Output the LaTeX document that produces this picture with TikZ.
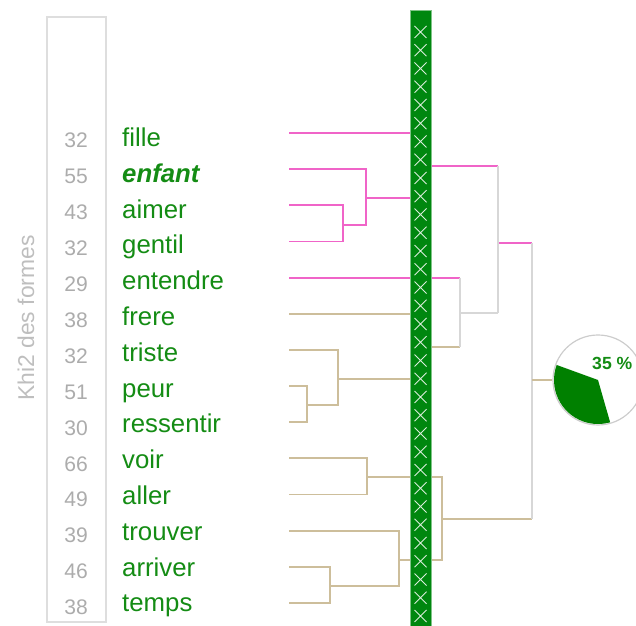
\documentclass[tikz,border=0pt]{standalone}
\usepackage{fontspec}
\setmainfont{Liberation Sans}

\definecolor{wordgreen}{RGB}{20,140,20}
\definecolor{numgray}{RGB}{172,172,172}
\definecolor{labelgray}{RGB}{190,190,190}
\definecolor{framegray}{RGB}{222,222,222}
\definecolor{linepink}{RGB}{240,100,200}
\definecolor{linetan}{RGB}{205,190,155}
\definecolor{linegray}{RGB}{215,215,215}
\definecolor{bargreen}{RGB}{0,135,15}

\begin{document}
\begin{tikzpicture}[x=0.03cm,y=-0.03cm]
      % Define styles for nodes and lines
      \tikzstyle{word} = [anchor=base west, inner sep=0pt, text=wordgreen,
      font=\fontsize{22}{24}\selectfont]
      \tikzstyle{khi} = [anchor=base east, inner sep=0pt, text=numgray,
      font=\fontsize{18}{20}\selectfont]
      \tikzstyle{pinkline} = [draw=linepink, line width=1.6pt]
      \tikzstyle{tanline} = [draw=linetan, line width=1.6pt]
      \tikzstyle{grayline} = [draw=linegray, line width=1.6pt]
      \tikzstyle{piechart} = [circle, draw=gray!40, fill=white, line width=1pt,
      minimum size=2.7cm, inner sep=0pt]

      \useasboundingbox (0,0) rectangle (636,626);

      % Frame of the Khi2 column
      \draw[framegray, line width=1pt] (47,17) rectangle (106,622);
      \node[rotate=90, text=labelgray, font=\fontsize{19.5}{21}\selectfont] (axis) at (26,318) {Khi2 des formes};

      % Words, Khi2 values and leaf ends
      \foreach \w/\n [count=\i from 0] in {fille/32, {\bfseries\itshape enfant}/55,
        aimer/43, gentil/32, entendre/29, frere/38, triste/32, peur/51,
        ressentir/30, voir/66, aller/49, trouver/39, arriver/46, temps/38} {
        \coordinate (l\i) at (289,133+36.15*\i);
        \node[word] (w\i) at (122,146.5+35.8*\i) {\w};
        \node[khi] (n\i) at (88,148+35.9*\i) {\n};
      }

      % Merge points
      \coordinate (ag) at (343,225);
      \coordinate (eag) at (366,198);
      \coordinate (fe) at (421,166);
      \coordinate (pr) at (307,405);
      \coordinate (tpr) at (338,379);
      \coordinate (ft) at (421,347);
      \coordinate (va) at (367,477);
      \coordinate (at) at (330,586);
      \coordinate (tat) at (399,560);
      \coordinate (vt) at (442,519);
      \coordinate (eft) at (460,313);
      \coordinate (pinkroot) at (498,243);
      \coordinate (root) at (532,380);

      % Pink class
      \draw[pinkline] (l2) -| (ag) |- (l3);
      \draw[pinkline] (l1) -| (eag) |- (ag);
      \draw[pinkline] (l0) -| (fe) |- (eag);
      \draw[pinkline] (l4) -- (l4 -| eft);
      \draw[pinkline] (fe) -- (fe -| pinkroot);
      \draw[pinkline] (pinkroot) -- (pinkroot -| root);

      % Tan class
      \draw[tanline] (l7) -| (pr) |- (l8);
      \draw[tanline] (l6) -| (tpr) |- (pr);
      \draw[tanline] (l5) -| (ft) |- (tpr);
      \draw[tanline] (l9) -| (va) |- (l10);
      \draw[tanline] (l12) -| (at) |- (l13);
      \draw[tanline] (l11) -| (tat) |- (at);
      \draw[tanline] (va) -| (vt) |- (tat);
      \draw[tanline] (ft) -- (ft -| eft);
      \draw[tanline] (vt) -- (vt -| root);

      % Grey joins
      \draw[grayline] (l4 -| eft) -- (ft -| eft);
      \draw[grayline] (eft) -- (eft -| pinkroot);
      \draw[grayline] (fe -| pinkroot) -- (eft -| pinkroot);
      \draw[grayline] (pinkroot -| root) -- (vt -| root);

      % Green bar
      \fill[bargreen] (410,10) rectangle (431,626);
      \draw[bargreen!50!white, line width=0.6pt] (410,10) rectangle (431,626);
      \foreach \k in {0,...,32}
        \draw[white!85!bargreen, line width=0.8pt] (414.5,26+18.25*\k) -- (426.5,38+18.25*\k)
          (426.5,26+18.25*\k) -- (414.5,38+18.25*\k);

      % Pie chart
      \node[piechart] (pie) at (598,380) {};
      \draw[tanline] (root) -- (pie.west);
      \begin{scope}[shift={(pie.center)}, yscale=-1]
        \fill[green!50!black] (0,0) -- (160:44) arc (160:286:44) -- cycle;
      \end{scope}
      \node[anchor=west, inner sep=0pt, text=wordgreen, font=\fontsize{15}{17}\selectfont\bfseries] (pct) at (592,363) {35 \%};
\end{tikzpicture}
\end{document}
